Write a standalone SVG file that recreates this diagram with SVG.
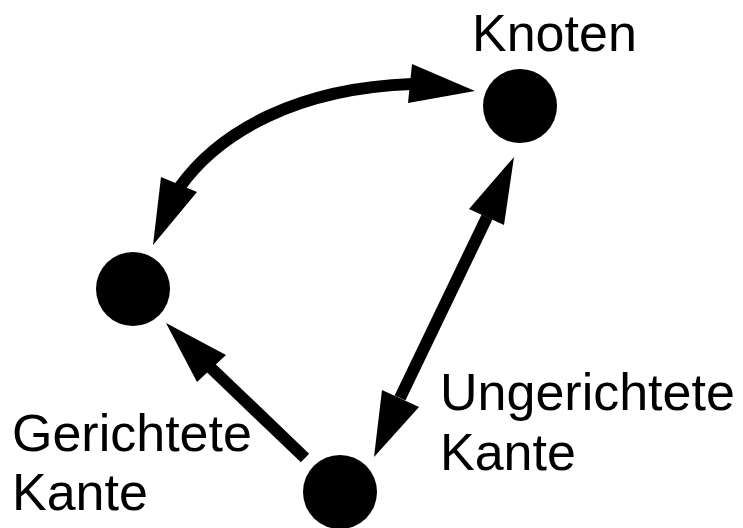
<svg xmlns="http://www.w3.org/2000/svg" width="743" height="528" viewBox="0 0 743 528">
<style>
.node{fill:#000}
.shaft{fill:none;stroke:#000;stroke-width:12;stroke-linecap:butt}
.head{fill:#000}
.lbl{font-family:"Liberation Sans",Arial,sans-serif;font-size:52px;fill:#000}
</style>
<rect width="743" height="528" fill="#fff"/>
<g id="connectors">
<g id="edge-curved">
<path class="shaft" d="M179,188 C220,130 300,88 412,84"/>
<polygon class="head" points="475,91 412,64 408,103"/>
<polygon class="head" points="153,245 161,177 197,192"/>
</g>
<g id="edge-undirected">
<path class="shaft" d="M487,217 L400,398"/>
<polygon class="head" points="514,157 469,209 504,225"/>
<polygon class="head" points="374,457 382,390 419,407"/>
</g>
<g id="edge-directed">
<path class="shaft" d="M305,458 L211,368"/>
<polygon class="head" points="166,323 197,382 226,355"/>
</g>
</g>
<g id="node-top"><circle class="node" cx="520" cy="106" r="37"/></g>
<g id="node-left"><circle class="node" cx="133" cy="289" r="37"/></g>
<g id="node-bottom"><circle class="node" cx="340" cy="492" r="37"/></g>
<g id="labels">
<text class="lbl" x="472" y="51">Knoten</text>
<text class="lbl" x="440" y="410">Ungerichtete</text>
<text class="lbl" x="440" y="470">Kante</text>
<text class="lbl" x="12" y="451">Gerichtete</text>
<text class="lbl" x="12" y="510">Kante</text>
</g>
</svg>
